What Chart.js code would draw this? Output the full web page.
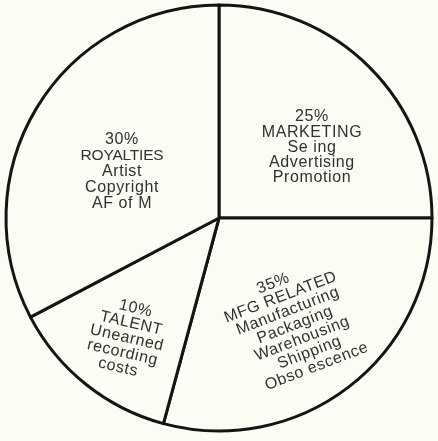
<!DOCTYPE html>
<html>
<head>
<meta charset="utf-8">
<script src="https://cdn.jsdelivr.net/npm/chart.js@4"></script>
<style>
  html, body { margin: 0; padding: 0; background: #fcfcf5; }
  #wrap { width: 438px; height: 441px; position: relative; }
</style>
</head>
<body>
<div id="wrap"><canvas id="c"></canvas></div>
<script>
// Categories in clockwise order starting at 12 o'clock
const categories = ['MARKETING', 'MFG RELATED', 'TALENT', 'ROYALTIES'];
// Percentages printed on the chart
const statedPercents = [25, 35, 10, 30];
// Slice sizes as drawn
const drawnShares = [25, 29.2, 13.1, 32.7];
// Detail lines under each heading
const detailLines = [
  ['Se ing', 'Advertising', 'Promotion'],
  ['Manufacturing', 'Packaging', 'Warehousing', 'Shipping', 'Obso escence'],
  ['Unearned', 'recording', 'costs'],
  ['Artist', 'Copyright', 'AF of M']
];

// Label placement (polar angle in degrees from +x, fraction of radius, rotation, line height, shear per line)
const labelLayout = [
  { ang: -37.2, frac: 0.548, rot: 0,   lh: 15.3, shear: 0,    titleSize: 16,   titleSpacing: 0.6 },
  { ang: 54.6,  frac: 0.616, rot: -21, lh: 15.5, shear: 1.8,  titleSize: 16,   titleSpacing: 0.6 },
  { ang: 127.5, frac: 0.71,  rot: 13,  lh: 15.3, shear: -1,   titleSize: 16,   titleSpacing: 0.6 },
  { ang: -154.4, frac: 0.505, rot: 0,  lh: 15.8, shear: 0,    titleSize: 15.5, titleSpacing: -0.2 }
];

const labelPlugin = {
  id: 'sliceText',
  afterDatasetsDraw(chart) {
    const ctx = chart.ctx;
    const meta = chart.getDatasetMeta(0);
    meta.data.forEach((arc, i) => {
      const p = arc.getProps(['x', 'y', 'outerRadius'], true);
      const L = labelLayout[i];
      const a = L.ang * Math.PI / 180;
      const cx = p.x + Math.cos(a) * L.frac * p.outerRadius;
      const cy = p.y + Math.sin(a) * L.frac * p.outerRadius;
      const lines = [statedPercents[i] + '%', categories[i]].concat(detailLines[i]);
      ctx.save();
      ctx.translate(cx, cy);
      ctx.rotate(L.rot * Math.PI / 180);
      ctx.fillStyle = '#303030';
      ctx.textAlign = 'center';
      ctx.textBaseline = 'middle';
      const n = lines.length;
      lines.forEach((t, j) => {
        const isTitle = j === 1;
        ctx.font = (isTitle ? L.titleSize : 16) + 'px "Liberation Sans", Arial, sans-serif';
        if ('letterSpacing' in ctx) ctx.letterSpacing = (isTitle ? L.titleSpacing : 0.6) + 'px';
        const k = j - (n - 1) / 2;
        ctx.fillText(t, k * L.shear, k * L.lh);
      });
      ctx.restore();
    });
  }
};

new Chart(document.getElementById('c'), {
  type: 'pie',
  data: {
    labels: categories,
    datasets: [{
      data: drawnShares,
      backgroundColor: '#fcfcf5',
      borderColor: '#141414',
      borderWidth: 3,
      borderJoinStyle: 'round',
      hoverOffset: 0
    }]
  },
  options: {
    responsive: true,
    maintainAspectRatio: false,
    animation: false,
    layout: { padding: { left: 4.5, right: 4.5, top: 3.5, bottom: 8.5 } },
    plugins: {
      legend: { display: false },
      tooltip: { enabled: false }
    }
  },
  plugins: [labelPlugin]
});
</script>
</body>
</html>
